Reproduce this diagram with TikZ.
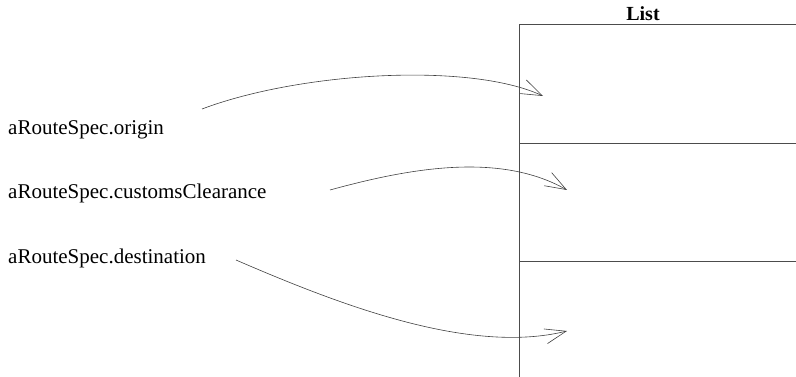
\documentclass[tikz,border=0pt]{standalone}
\usepackage{fontspec}
\setmainfont{Liberation Serif}
\usepackage{xcolor}
\usepackage{tikz}
\usetikzlibrary{arrows.meta,positioning}

\begin{document}
\begin{tikzpicture}[
  x=1pt, y=-1pt,
  >={Straight Barb[length=21pt, width=15pt]},
  boxline/.style={black!70, line width=0.8pt},
  ref/.style={black!75, line width=0.6pt, ->},
  label/.style={anchor=base west, inner sep=0pt, font=\fontsize{21pt}{25pt}\selectfont},
]
\useasboundingbox (0,0) rectangle (796,377);

% List box
\node[anchor=base, inner sep=0pt, font=\fontsize{20pt}{24pt}\selectfont\bfseries] (listtitle) at (643,21) {List};
\draw[boxline] (796,24) -- (519,24) -- (519,377);
\draw[boxline] (519,143) -- (796,143);
\draw[boxline] (519,261) -- (796,261);

% Route spec fields
\node[label] (origin) at (8,135) {aRouteSpec.origin};
\node[label] (customs) at (8,199) {aRouteSpec.customsClearance};
\node[label] (destination) at (8,263) {aRouteSpec.destination};

% Reference ends
\coordinate (originfrom) at (202,109);
\coordinate (originto) at (543,96);
\coordinate (customsfrom) at (330,190);
\coordinate (customsto) at (567,190);
\coordinate (destfrom) at (236,260);
\coordinate (destto) at (567,331);

% References into the list
\draw[ref] (originfrom) .. controls (300,72) and (470,62) .. (originto);
\draw[ref] (customsfrom) .. controls (410,168) and (500,152) .. (customsto);
\draw[ref] (destfrom) .. controls (340,305) and (470,355) .. (destto);
\end{tikzpicture}
\end{document}
